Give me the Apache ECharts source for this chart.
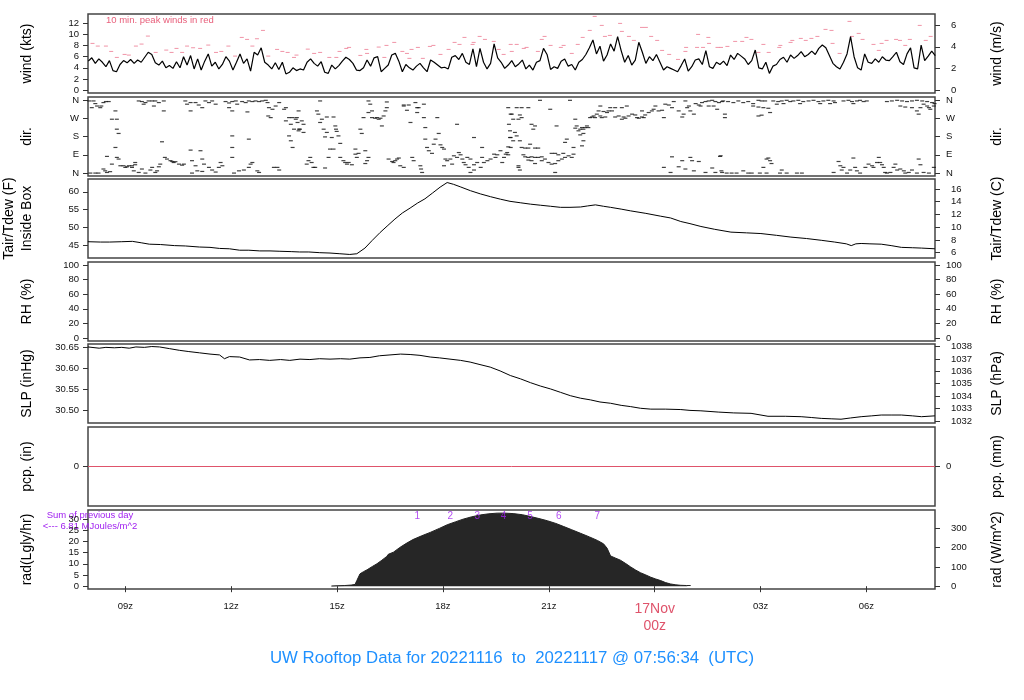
<!DOCTYPE html>
<html><head><meta charset="utf-8">
<script src="https://cdn.jsdelivr.net/npm/echarts@6/dist/echarts.min.js"></script>
<style>html,body{margin:0;padding:0;background:#fff}#c{width:1024px;height:700px}</style>
</head><body><div id="c"></div>
<script>
// ---------------- DATA ----------------
const X_MIN = 7.9428, X_MAX = 31.9428;           // hours since 2022-11-16 00z
const hourTicks = [9, 12, 15, 18, 21, 24, 27, 30];
const hourLabels = ['09z', '12z', '15z', '18z', '21z', '17Nov\n00z', '03z', '06z'];

// wind speed (kts), sampled every 0.1 h from 07:57z
const windStart = 7.95, windStep = 0.1;
const windKts = [
 5.2,5.8,4.8,5.6,5.0,4.2,5.3,3.5,3.3,4.6, 5.3,4.9,5.5,4.8,5.4,5.0,5.9,6.8,6.4,4.9,
 4.5,5.2,4.0,4.4,3.9,5.1,4.0,6.0,4.5,6.2, 3.8,5.6,3.6,5.2,6.5,4.3,5.0,3.8,4.6,6.0,
 5.2,3.6,5.0,6.5,4.8,5.6,3.4,6.8,6.3,7.6, 5.0,4.5,3.8,4.9,3.7,5.0,2.9,3.2,4.0,3.5,3.8,
 3.6,5.0,5.6,4.8,4.3,5.1,3.2,3.0,4.5,3.8, 4.4,5.2,5.9,5.5,4.8,3.6,3.5,4.0,5.4,4.3,
 5.8,6.0,3.3,3.9,4.5,6.3,6.6,5.2,3.3,4.6, 4.0,3.6,4.3,4.8,4.0,3.3,5.4,5.0,4.5,4.0,
 4.1,3.8,5.9,6.2,5.5,6.6,5.0,4.6,7.4,4.2, 7.5,5.0,3.8,4.8,8.3,5.8,5.0,3.9,4.5,5.3,
 4.2,4.7,5.4,3.8,4.5,3.6,5.0,5.3,7.5,6.4, 3.7,4.2,3.9,5.2,5.6,4.3,4.6,3.6,5.0,5.5,
 6.4,7.6,9.0,6.5,7.9,5.2,6.3,8.3,7.0,9.6, 7.1,5.0,6.2,4.5,5.4,8.6,6.8,4.8,6.0,5.3,
 6.4,5.0,3.6,4.2,3.9,3.6,3.3,4.4,5.6,3.4, 4.2,5.4,5.6,4.6,7.1,4.2,3.9,5.0,4.6,5.2,
 4.4,6.3,5.5,6.6,6.1,5.6,4.6,5.3,7.2,4.0, 3.8,5.0,3.0,4.3,4.6,5.5,5.9,5.0,6.3,5.7,
 6.2,6.9,6.0,6.4,7.0,6.4,7.5,8.1,7.6,6.2, 4.8,4.2,3.8,5.0,6.5,9.6,6.0,4.0,3.6,6.5,
 5.0,4.8,5.6,5.0,6.0,5.4,5.3,6.0,6.8,5.1, 4.6,6.5,7.6,4.0,3.8,8.1,5.3,6.1,7.0,6.2
];

// 10-min peak winds [hour, kts]
const windPeaks = [
 [8.07,8.39],[8.22,7.91],[8.45,7.91],[8.60,6.95],[8.76,5.87],[8.98,6.41],[9.10,6.29],[9.30,7.91],[9.46,8.27],[9.64,9.71],
 [9.86,6.77],[10.16,7.19],[10.31,6.77],[10.45,7.49],[10.61,6.77],[10.75,7.91],[10.92,7.61],[11.12,7.49],[11.35,8.09],[11.57,6.77],
 [11.72,6.95],[11.92,7.91],[12.11,6.11],[12.30,9.47],[12.45,9.11],[12.60,7.91],[12.73,9.23],[12.90,10.73],[13.05,6.11],[13.30,7.31],
 [13.45,6.95],[13.60,6.77],[13.78,5.87],[13.85,6.29],[14.17,7.36],[14.35,6.59],[14.52,6.77],[14.78,5.87],[14.98,5.87],[15.07,6.95],
 [15.26,7.49],[15.34,7.67],[15.66,6.23],[15.83,7.31],[15.85,6.59],[16.18,7.73],[16.34,5.87],[16.40,8.03],[16.62,8.57],[16.85,6.95],
 [16.98,6.59],[17.05,5.70],[17.11,7.31],[17.29,7.67],[17.43,5.70],[17.63,7.85],[17.73,8.03],[17.93,6.41],[18.16,7.31],[18.33,8.57],
 [18.47,8.21],[18.61,9.47],[18.84,8.21],[18.87,8.57],[19.04,9.65],[19.19,9.11],[19.44,8.75],[19.58,7.31],[19.72,6.41],[19.92,8.21],
 [19.95,6.95],[20.09,8.21],[20.29,7.49],[20.37,7.67],[20.69,6.95],[20.80,9.11],[20.88,9.65],[21.05,8.03],[21.34,7.67],[21.42,8.03],
 [21.65,6.59],[21.82,8.21],[21.96,9.47],[22.16,10.73],[22.30,13.25],[22.50,11.63],[22.59,9.65],[22.73,9.83],[23.02,11.99],[23.07,10.55],
 [23.27,9.65],[23.41,8.93],[23.64,11.27],[23.75,11.27],[23.90,9.65],[24.07,8.93],[24.21,7.13],[24.41,6.41],[24.66,5.51],[24.87,6.95],
 [24.89,7.67],[25.20,7.67],[25.23,10.01],[25.37,7.67],[25.52,9.47],[25.54,8.39],[25.78,7.67],[25.88,7.67],[26.06,7.85],[26.28,8.75],
 [26.48,8.75],[26.60,9.47],[26.74,9.11],[26.94,6.77],[27.08,8.21],[27.23,6.77],[27.53,7.67],[27.56,8.03],[27.85,8.57],[27.90,8.93],
 [28.14,9.29],[28.28,8.93],[28.44,9.29],[28.61,9.65],[28.84,10.91],[29.01,10.73],[29.04,8.39],[29.24,6.59],[29.52,12.35],[29.59,9.65],
 [29.78,10.19],[29.89,9.11],[30.20,8.21],[30.35,7.13],[30.43,8.39],[30.57,8.93],[30.84,9.11],[30.95,8.93],[31.10,8.03],[31.23,9.11],
 [31.51,11.63],[31.68,8.93],[31.82,9.65]
];

// wind direction [hour, degrees]
const windDir = [
 [7.98,355],[8.10,355],[8.15,342],[8.20,330],[8.29,322],[8.38,347],[8.45,352],[8.53,352],[8.05,322],[8.32,330],
 [8.72,306],[8.76,265],[8.62,265],[8.76,216],[8.81,195],[8.72,126],[8.81,69],
 [8.24,0],[8.15,0],[8.01,0],[8.43,11],[8.57,7],[8.48,3],[8.38,20],[8.62,44],[8.76,77],[8.86,36],[8.95,36],[9.00,28],[9.05,31],
 [9.10,36],[9.19,28],[9.28,41],[9.24,11],[9.38,3],[9.47,20],[9.57,0],[9.71,15],[9.76,28],[9.85,3],[9.90,11],[9.95,31],[9.99,44],
 [8.48,82],[9.28,52],[9.19,36],[10.12,77],[10.18,69],[10.28,61],[10.37,52],[10.52,44],[10.61,39],[10.66,44],[10.42,56],[10.33,57],
 [10.04,154],[10.09,306],[9.76,355],
 [9.38,355],[9.47,352],[9.57,347],[9.66,355],[9.81,330],[9.85,355],[9.95,347],[10.09,355],[9.52,339],
 [10.70,355],[10.75,339],[10.85,347],[10.99,347],[11.08,335],[11.27,355],[11.37,347],[11.46,355],[11.56,339],[11.18,322],[10.85,306],
 [10.85,113],[10.89,61],[10.99,36],[11.13,110],[11.18,69],[11.23,44],[10.89,0],[11.04,11],[11.18,8],[11.37,28],[11.46,15],[11.56,5],[11.65,28],[11.75,36],[11.70,52],
 [11.84,352],[11.94,345],[12.03,352],[12.13,355],[12.17,339],[12.31,352],[12.41,347],[12.50,355],[12.60,352],[12.69,355],[12.79,352],[12.88,355],[12.98,358],[13.03,347],
 [11.94,322],[12.03,306],
 [12.03,183],[12.03,126],[12.03,77],[12.08,0],[12.22,11],[12.36,15],[12.50,28],[12.60,52],[12.55,44],[12.74,11],[12.79,3],[12.50,167],[12.46,301],
 [13.07,322],[13.17,314],[13.26,330],[13.36,347],[13.50,314],[13.55,322],[13.64,273],[13.74,273],[13.83,265],[13.88,249],[13.92,216],[13.69,240],[13.78,216],[13.55,257],[13.64,183],[13.69,159],[13.74,126],[13.31,28],[13.36,15],[13.21,28],[13.05,281],[13.12,273],
 [14.52,355],[15.89,355],[16.41,350],[16.89,335],[17.03,335],[17.22,347],[17.27,322],[17.46,339],[13.91,306],[14.43,306],[14.47,290],[14.57,265],[14.71,276],[14.90,276],
 [13.86,273],[14.00,257],[14.05,240],[13.95,216],[13.91,208],[14.05,200],[14.52,249],[14.62,216],[14.66,178],[14.71,200],[14.95,232],[14.97,216],[14.99,205],[15.04,183],
 [14.85,175],[15.09,146],[14.80,118],[14.90,118],[14.76,77],[14.24,77],[14.19,61],[14.28,52],[14.33,28],[14.38,28],[14.14,44],[14.66,25],[15.09,77],[15.18,61],[15.23,52],
 [15.28,44],[15.33,52],[15.42,41],[15.52,118],[15.56,77],[15.61,97],[15.52,93],[15.66,216],[15.70,195],[15.75,273],[15.80,110],[15.85,61],[15.80,47],[15.89,77],[15.94,339],
 [15.99,306],[15.89,298],[15.99,273],[16.08,270],[16.18,265],[16.23,270],[16.13,273],[16.32,281],[16.27,232],[16.37,306],[16.41,322],[16.46,69],[16.56,57],[16.60,52],
 [16.65,61],[16.70,69],[16.75,74],[16.79,36],[16.89,28],[16.89,330],[16.98,309],[17.08,249],[17.13,77],[17.17,61],[17.27,298],[17.31,322],[17.36,36],[17.38,20],[17.41,3],
 [17.46,273],[17.50,224],[17.50,167],[17.55,126],[17.60,110],[17.69,97],[17.74,142],[17.79,167],[17.88,195],[17.93,139],[17.98,126],[18.03,36],[18.07,69],[18.12,61],
 [18.21,69],[18.26,44],[18.31,85],[18.40,77],[18.50,90],[18.55,69],[18.59,52],[18.64,41],[18.69,77],[18.78,69],[18.88,41],[18.97,52],[19.07,28],[19.11,77],[19.16,52],
 [19.26,61],[19.35,69],[19.45,93],[19.49,77],[19.54,90],[19.63,110],[19.68,52],[19.73,77],[19.78,93],[19.82,101],[19.92,126],[19.92,175],[19.87,240],[19.92,290],
 [18.88,175],[19.11,126],[18.40,240],[17.84,273],[18.03,118],[18.45,101],[18.78,3],[18.73,28],[18.88,15],
 [20.75,358],[21.60,358],[19.85,322],[20.09,322],[20.23,322],[21.04,314],[19.95,290],[20.18,286],[19.99,265],[20.14,265],[20.23,273],[20.51,240],[20.61,232],[20.56,216],
 [21.22,232],[19.90,208],[20.04,200],[20.09,183],[19.90,175],[19.99,159],[20.18,159],[19.85,129],[20.23,126],[20.33,123],[20.42,123],[20.47,142],[20.61,123],[20.70,123],
 [19.85,90],[20.28,90],[20.33,80],[20.42,77],[20.51,80],[20.61,77],[20.70,77],[20.80,80],[20.89,69],[20.99,52],[21.08,44],[21.18,47],[21.27,61],[21.37,69],[21.46,77],
 [21.56,85],[21.65,77],[21.70,93],[21.41,97],[21.08,97],[21.18,97],[21.27,90],[20.42,64],[20.51,61],[20.80,61],[20.14,36],[20.18,15],[21.51,167],[21.46,151],[21.70,126],
 [21.75,221],[21.79,232],[21.84,208],[21.89,216],[21.94,224],[21.98,216],[22.03,224],[22.08,232],[22.12,224],[21.98,195],[21.89,188],[21.98,159],[21.94,134],[21.75,265],
 [22.17,273],[22.22,276],[22.27,281],[22.31,273],[22.36,290],[22.41,306],[22.46,281],[22.50,273],[22.60,276],[22.65,298],[22.69,306],[22.74,322],[22.79,306],[22.88,276],
 [22.98,281],[23.07,265],[23.12,276],[23.17,270],[23.26,281],[23.36,290],[23.45,286],[23.50,273],[23.55,270],[23.64,276],[23.69,273],[23.73,286],[23.83,298],[23.92,306],
 [23.97,314],[24.02,330],[24.11,306],[24.21,309],[24.26,273],[24.30,339],[24.40,335],[24.49,322],[24.54,352],[24.68,306],[24.78,276],[24.82,290],[24.87,355],[24.92,322],
 [25.01,306],[25.11,290],[25.16,342],[25.25,335],[25.34,347],[25.44,352],[25.53,355],[25.63,358],[25.72,352],[25.82,347],[25.91,352],[24.97,330],[25.30,330],[25.53,330],
 [25.67,330],[25.77,314],[22.46,330],[22.55,303],[22.88,322],[23.07,322],[23.21,330],[23.64,306],[20.42,322],
 [24.26,28],[24.45,3],[24.49,80],[24.68,31],[24.78,61],[24.87,20],[25.01,77],[25.06,61],[25.25,57],[25.11,11],[25.44,3],[25.63,25],[25.72,3],[25.87,85],[25.91,3],[21.18,3],[20.14,28],[20.61,47],
 [25.94,355],[26.08,352],[26.23,347],[26.37,355],[26.51,347],[26.65,352],[26.79,342],[26.94,358],[27.03,355],[27.13,355],[26.79,330],[26.94,325],[27.08,322],[27.22,319],
 [27.27,298],[26.94,281],[27.03,285],[25.99,290],[25.99,273],[27.36,355],[27.50,352],[27.60,355],[27.74,358],[27.84,352],[27.93,355],[28.07,358],[28.21,352],[28.36,355],
 [28.50,358],[28.64,352],[28.78,355],[28.92,358],[29.07,355],[29.11,347],[27.46,339],[27.65,342],[28.12,342],[28.69,342],[28.97,342],[29.35,355],[29.49,358],[29.59,352],
 [29.73,355],[29.82,358],[29.92,352],[30.01,355],[29.63,342],[30.58,352],[30.72,355],[30.87,358],[31.01,355],[31.15,352],[31.29,355],[31.43,358],[31.58,355],[31.72,352],
 [31.86,347],[31.93,342],[30.96,330],[31.10,325],[31.29,322],[31.43,306],[31.53,322],[31.62,339],[31.72,330],[31.77,322],[31.81,314],[31.91,330],[31.48,290],
 [25.85,82],[25.89,11],[26.04,0],[26.18,0],[26.32,0],[26.51,11],[26.65,0],[26.75,0],[26.98,0],[27.08,28],[27.17,69],[27.27,61],[27.22,74],[27.31,47],[27.17,0],[27.55,0],
 [27.60,15],[27.74,0],[28.03,0],[28.17,0],[29.07,3],[29.21,57],[29.26,36],[29.35,28],[29.30,15],[29.45,0],[29.54,15],[29.63,74],[29.68,28],[29.73,11],[29.82,0],[29.97,28],
 [30.06,44],[30.16,36],[30.20,28],[30.30,52],[30.35,77],[30.39,52],[30.44,41],[30.49,28],[30.53,3],[30.58,0],[30.68,3],[30.77,28],[30.82,44],[30.87,15],[30.96,20],[31.06,11],
 [31.10,0],[31.20,3],[31.29,15],[31.43,0],[31.48,69],[31.53,41],[31.62,3],[31.77,0],[31.91,28]
];

// air temperature inside box (F) [hour, F]
const tempF = [
 [7.94,45.9],[8.3,45.8],[8.55,45.8],[8.9,45.9],[9.2,46.0],[9.45,45.6],[9.68,45.2],[10.0,45.1],[10.39,44.8],[10.7,44.7],[11.10,44.4],
 [11.4,44.3],[11.67,44.0],[11.95,43.9],[12.24,43.5],[12.5,43.5],[12.81,43.3],[13.1,43.3],[13.38,43.2],[13.7,43.1],[13.94,43.0],[14.2,43.0],
 [14.51,42.8],[14.8,42.7],[15.08,42.5],[15.36,42.3],[15.56,42.5],[15.79,44.1],[15.99,46.2],[16.22,48.5],[16.44,50.5],[16.64,52.3],[16.85,54.0],
 [17.07,55.4],[17.28,56.8],[17.49,58.0],[17.7,59.6],[17.92,61.3],[18.12,62.6],[18.3,62.1],[18.49,61.4],[18.78,60.3],[19.06,59.4],[19.35,58.6],
 [19.63,57.9],[19.9,57.3],[20.19,56.9],[20.48,56.5],[20.76,56.2],[21.05,55.9],[21.33,55.6],[21.6,55.6],[21.90,55.7],[22.1,56.0],[22.32,56.3],
 [22.55,55.9],[22.75,55.6],[23.05,55.1],[23.32,54.6],[23.75,53.9],[24.17,53.1],[24.45,52.6],[24.74,51.6],[25.0,51.0],[25.31,50.2],[25.7,49.4],
 [26.16,48.6],[26.6,48.4],[27.01,48.2],[27.45,47.7],[27.86,47.2],[28.3,46.8],[28.72,46.3],[29.1,45.8],[29.43,45.3],[29.57,44.8],[29.7,45.3],
 [29.85,45.4],[30.1,45.3],[30.42,45.2],[30.7,44.8],[30.99,44.3],[31.3,44.2],[31.56,44.1],[31.94,43.9]
];

// sea level pressure (inHg) [hour, inHg]
const slpInHg = [
 [7.94,30.651],[8.26,30.648],[8.45,30.650],[8.69,30.649],[8.9,30.650],[9.11,30.648],[9.3,30.651],[9.54,30.650],[9.75,30.652],[9.97,30.651],
 [10.25,30.647],[10.53,30.643],[10.8,30.640],[11.10,30.637],[11.4,30.634],[11.67,30.632],[11.81,30.623],[11.95,30.628],[12.24,30.627],
 [12.52,30.620],[12.8,30.621],[13.09,30.619],[13.4,30.621],[13.66,30.619],[13.95,30.622],[14.23,30.621],[14.5,30.623],[14.80,30.622],
 [15.1,30.623],[15.36,30.622],[15.65,30.625],[15.93,30.626],[16.2,30.630],[16.50,30.632],[16.8,30.634],[17.07,30.633],[17.35,30.631],
 [17.64,30.627],[17.9,30.625],[18.20,30.622],[18.5,30.619],[18.77,30.615],[19.05,30.609],[19.34,30.603],[19.62,30.594],[19.91,30.583],
 [20.2,30.575],[20.48,30.566],[20.76,30.558],[21.05,30.551],[21.33,30.543],[21.61,30.535],[21.9,30.529],[22.18,30.525],[22.45,30.520],
 [22.75,30.517],[23.05,30.512],[23.32,30.509],[23.6,30.505],[23.89,30.503],[24.3,30.503],[24.74,30.502],[25.0,30.500],[25.31,30.499],
 [25.8,30.496],[26.24,30.494],[26.73,30.493],[27.21,30.486],[27.7,30.486],[28.15,30.485],[28.45,30.483],[28.72,30.481],[29.0,30.480],
 [29.28,30.479],[29.55,30.482],[29.85,30.485],[30.15,30.487],[30.42,30.489],[30.7,30.489],[30.99,30.489],[31.3,30.487],[31.56,30.485],[31.94,30.487]
];

// precipitation (in) [hour, in]
const pcpIn = [[7.9428, 0], [31.9428, 0]];

// solar radiation (Langley/hr) [hour, Lgly/hr]
const radLgly = [
 [14.84,0.1],[15.0,0.2],[15.22,0.3],[15.40,0.5],[15.51,0.8],[15.56,2.5],[15.65,5.5],[15.75,6.5],[15.85,7.3],[16.0,8.8],[16.13,10.0],
 [16.27,11.6],[16.41,13.3],[16.45,14.2],[16.5,13.6],[16.6,15.2],[16.78,17.3],[16.95,19.0],[17.15,20.8],[17.4,22.5],[17.64,24.0],
 [17.9,25.8],[18.12,27.4],[18.35,28.7],[18.57,29.9],[18.8,30.9],[19.06,31.8],[19.3,32.3],[19.54,32.6],[19.75,32.6],[19.99,32.4],
 [20.25,31.9],[20.48,31.1],[20.72,30.2],[20.96,29.2],[21.2,28.0],[21.41,26.7],[21.65,25.2],[21.90,23.6],[22.15,22.0],[22.38,20.4],
 [22.55,18.9],[22.65,17.0],[22.75,13.5],[22.88,12.6],[23.03,11.6],[23.18,10.1],[23.32,8.6],[23.46,7.2],[23.60,6.0],[23.75,5.0],
 [23.89,4.0],[24.03,3.2],[24.17,2.5],[24.31,1.6],[24.45,1.0],[24.6,0.6],[24.74,0.4],[24.9,0.3],[25.02,0.3]
];
const radHourMarks = [[17.27,31.4],[18.21,31.4],[18.97,31.4],[19.72,31.4],[20.47,31.4],[21.28,31.4],[22.37,31.4]];
const radHourLabels = ['1','2','3','4','5','6','7'];

// tick values / labels
const windTicksKts = [0,2,4,6,8,10,12];
const windTicksMs = [0,2,4,6];
const dirTicks = [0,90,180,270,360];
const dirLabels = ['N','E','S','W','N'];
const tempTicksF = [45,50,55,60];
const tempTicksC = [6,8,10,12,14,16];
const rhTicks = [0,20,40,60,80,100];
const slpTicksInHg = [30.50,30.55,30.60,30.65];
const slpTicksHpa = [1032,1033,1034,1035,1036,1037,1038];
const pcpTicks = [0];
const radTicksLgly = [0,5,10,15,20,25,30];
const radTicksW = [0,100,200,300];

// ---------------- CHART ----------------
const FONT = '"Liberation Sans", Arial, Helvetica, sans-serif';
const tops = [14, 97, 179, 262, 344, 427, 510];
const grid = tops.map(t => ({left: 88, right: 89, top: t, height: 79, show: true,
  borderColor: '#444', borderWidth: 1.5, backgroundColor: 'rgba(0,0,0,0)', outerBoundsMode: 'none'}));

const xAxis = tops.map((t, i) => ({
  type: 'value', gridIndex: i, min: X_MIN, max: X_MAX, show: i === 6,
  axisLine: {show: false}, splitLine: {show: false},
  axisTick: {show: true, length: 6, customValues: hourTicks, lineStyle: {color: '#333'}},
  axisLabel: {customValues: hourTicks, margin: 12, showMinLabel: true, showMaxLabel: true,
    formatter: v => {
      const s = hourLabels[hourTicks.indexOf(Math.round(v))] || '';
      return s.indexOf('\n') >= 0 ? s.split('\n').map(p => '{r|' + p + '}').join('\n') : '{d|' + s + '}';
    },
    rich: {d: {fontSize: 9.5, fontFamily: FONT, color: '#111', lineHeight: 11},
           r: {fontSize: 14, fontFamily: FONT, color: '#df536b', lineHeight: 17}}}
}));

function yAx(gi, pos, min, max, ticks, fmt, name, gap, margin) {
  return {
    type: 'value', gridIndex: gi, position: pos, min: min, max: max,
    axisLine: {show: false}, splitLine: {show: false},
    axisTick: {show: true, length: 5, customValues: ticks, lineStyle: {color: '#333'}},
    axisLabel: {customValues: ticks, margin: margin, fontSize: 9.5, fontFamily: FONT, color: '#111',
      showMinLabel: true, showMaxLabel: true, hideOverlap: false, formatter: fmt},
    name: name, nameLocation: 'middle', nameRotate: 90, nameGap: gap,
    nameTextStyle: {fontSize: 14, fontFamily: FONT, color: '#000', lineHeight: 18}
  };
}
const plain = v => String(v);
const dirFmt = v => dirLabels[dirTicks.indexOf(Math.round(v))];
const KT2MS = 0.514444, INHG2HPA = 33.8639, LGLY2W = 11.622;
const wMin = -0.53, wMax = 13.68;
const dMin = -14.4, dMax = 374.4;
const tMin = 41.3, tMax = 63.6;
const rMin = -4, rMax = 104;
const pMin = 30.470, pMax = 30.658;
const qMin = -1, qMax = 1;
const sMin = -1.25, sMax = 34.0;
const LG = 52, RG = 53;

const yAxis = [
  yAx(0,'left', wMin, wMax, windTicksKts, plain, 'wind (kts)', LG, 9),
  yAx(0,'right', wMin*KT2MS, wMax*KT2MS, windTicksMs, plain, 'wind (m/s)', RG, 16),
  yAx(1,'left', dMin, dMax, dirTicks, dirFmt, 'dir.', LG, 9),
  yAx(1,'right', dMin, dMax, dirTicks, dirFmt, 'dir.', RG, 11),
  yAx(2,'left', tMin, tMax, tempTicksF, plain, 'Tair/Tdew (F)\nInside Box', LG, 9),
  yAx(2,'right', (tMin-32)/1.8, (tMax-32)/1.8, tempTicksC, plain, 'Tair/Tdew (C)', RG, 16),
  yAx(3,'left', rMin, rMax, rhTicks, plain, 'RH (%)', LG, 9),
  yAx(3,'right', rMin, rMax, rhTicks, plain, 'RH (%)', RG, 11),
  yAx(4,'left', pMin, pMax, slpTicksInHg, v => v.toFixed(2), 'SLP (inHg)', LG, 9),
  yAx(4,'right', pMin*INHG2HPA, pMax*INHG2HPA, slpTicksHpa, plain, 'SLP (hPa)', RG, 16),
  yAx(5,'left', qMin, qMax, pcpTicks, plain, 'pcp. (in)', LG, 9),
  yAx(5,'right', qMin*25.4, qMax*25.4, pcpTicks, plain, 'pcp. (mm)', RG, 11),
  yAx(6,'left', sMin, sMax, radTicksLgly, plain, 'rad(Lgly/hr)', LG, 9),
  yAx(6,'right', sMin*LGLY2W, sMax*LGLY2W, radTicksW, plain, 'rad (W/m^2)', RG, 16)
];

const series = [
  {type: 'scatter', xAxisIndex: 0, yAxisIndex: 0, data: windPeaks, symbol: 'rect', symbolSize: [4, 1],
   itemStyle: {color: '#ec7890'}, z: 2, silent: true},
  {type: 'line', xAxisIndex: 0, yAxisIndex: 0, data: windKts.map((v, i) => [windStart + i * windStep, v]),
   showSymbol: false, lineStyle: {color: '#000', width: 1.2}, z: 3, silent: true},
  {type: 'scatter', xAxisIndex: 1, yAxisIndex: 2, data: windDir, symbol: 'rect', symbolSize: [4, 1.2],
   itemStyle: {color: '#111'}, silent: true},
  {type: 'line', xAxisIndex: 2, yAxisIndex: 4, data: tempF, showSymbol: false,
   lineStyle: {color: '#000', width: 1}, silent: true},
  {type: 'line', xAxisIndex: 4, yAxisIndex: 8, data: slpInHg, showSymbol: false,
   lineStyle: {color: '#000', width: 1}, silent: true},
  {type: 'line', xAxisIndex: 5, yAxisIndex: 10, data: pcpIn, showSymbol: false,
   lineStyle: {color: '#df536b', width: 1}, silent: true},
  {type: 'line', xAxisIndex: 6, yAxisIndex: 12, data: radLgly, showSymbol: false,
   lineStyle: {color: '#222', width: 1}, areaStyle: {color: '#262626', opacity: 1}, silent: true},
  {type: 'scatter', xAxisIndex: 6, yAxisIndex: 12, symbolSize: 0, silent: true, z: 5,
   data: radHourMarks.map((p, i) => ({value: p, name: radHourLabels[i]})),
   label: {show: true, position: 'inside', formatter: '{b}', color: '#a020f0', fontSize: 10, fontFamily: FONT}}
];

const chart = echarts.init(document.getElementById('c'), null, {renderer: 'canvas'});
chart.setOption({
  animation: false,
  backgroundColor: '#fff',
  title: {text: 'UW Rooftop Data for 20221116  to  20221117 @ 07:56:34  (UTC)', left: 'center', top: 650, padding: 0,
    textStyle: {color: '#1e90ff', fontSize: 16.8, fontWeight: 'normal', fontFamily: FONT}},
  grid: grid, xAxis: xAxis, yAxis: yAxis, series: series,
  graphic: [
    {type: 'text', left: 106, top: 15, silent: true,
     style: {text: '10 min. peak winds in red', fill: '#e8607c', font: '9.5px ' + FONT}},
    {type: 'text', x: 90, y: 515, silent: true,
     style: {text: 'Sum of previous day', fill: '#a020f0', font: '9.5px ' + FONT, align: 'center', verticalAlign: 'middle'}},
    {type: 'text', x: 90, y: 526, silent: true,
     style: {text: '<--- 6.81 MJoules/m^2', fill: '#a020f0', font: '9.5px ' + FONT, align: 'center', verticalAlign: 'middle'}}
  ]
});
</script></body></html>
